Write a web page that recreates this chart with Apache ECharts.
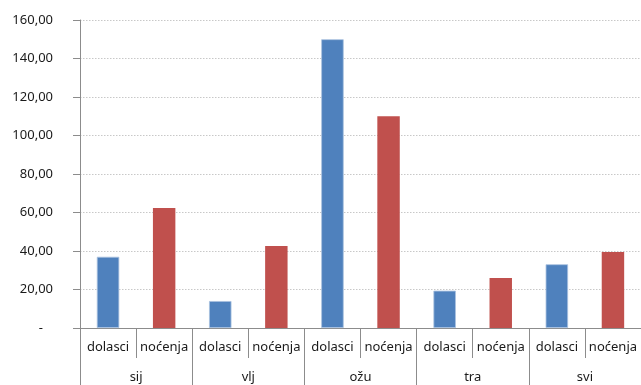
<!DOCTYPE html>
<html>
<head>
<meta charset="utf-8">
<style>
  html, body { margin: 0; padding: 0; background: #fff; }
  #chart { width: 641px; height: 385px; }
</style>
<script src="https://cdn.jsdelivr.net/npm/echarts@6/dist/echarts.min.js"></script>
</head>
<body>
<div id="chart"></div>
<script>
// Monthly arrivals (dolasci) and overnight stays (noćenja)
const months = ['sij', 'vlj', 'ožu', 'tra', 'svi'];
const measures = ['dolasci', 'noćenja'];
const dolasci = [37.0, 14.0, 150.0, 19.4, 33.1];
const nocenja = [62.3, 42.6, 110.0, 26.0, 39.5];
const measureColors = ['#4F81BD', '#C0504D'];
const yTicks = [0, 20, 40, 60, 80, 100, 120, 140, 160];

// Flatten into one category per bar: month × measure
const categories = [];
const values = [];
months.forEach((m, i) => {
  categories.push(measures[0]);
  values.push({ value: dolasci[i], itemStyle: { color: measureColors[0], borderColor: '#A9C1E0', borderWidth: 0.8 } });
  categories.push(measures[1]);
  values.push({ value: nocenja[i], itemStyle: { color: measureColors[1] } });
});

const fontFamily = '"Noto Sans", "DejaVu Sans", sans-serif';
const axisGray = '#8c8c8c';

const chart = echarts.init(document.getElementById('chart'), null, { renderer: 'canvas' });
chart.setOption({
  animation: false,
  backgroundColor: '#ffffff',
  grid: { left: 80, right: 0, top: 20, bottom: 57, containLabel: false },
  xAxis: [
    {
      type: 'category',
      data: categories,
      position: 'bottom',
      axisLine: { lineStyle: { color: axisGray, width: 1 } },
      axisTick: { show: true, interval: 0, length: 30, lineStyle: { color: axisGray } },
      axisLabel: { interval: 0, margin: 13, color: '#1a1a1a', fontSize: 13, fontFamily: fontFamily }
    },
    {
      type: 'category',
      data: months,
      position: 'bottom',
      axisLine: { show: false },
      axisTick: { show: true, interval: 0, length: 60, lineStyle: { color: axisGray } },
      axisLabel: { interval: 0, margin: 43, color: '#1a1a1a', fontSize: 13, fontFamily: fontFamily }
    }
  ],
  yAxis: {
    type: 'value',
    min: yTicks[0],
    max: yTicks[yTicks.length - 1],
    interval: yTicks[1] - yTicks[0],
    axisLine: { show: true, lineStyle: { color: axisGray, width: 1 } },
    axisTick: { show: true, inside: false, length: 7, lineStyle: { color: axisGray } },
    splitLine: { show: true, lineStyle: { color: '#c8c8c8', type: [1.5, 1.5], width: 1 } },
    axisLabel: {
      margin: 27,
      color: '#1a1a1a',
      fontSize: 13,
      fontFamily: fontFamily,
      formatter: v => v === 0 ? '-   ' : v.toFixed(2).replace('.', ',')
    }
  },
  series: [
    {
      type: 'bar',
      xAxisIndex: 0,
      data: values,
      barWidth: '40%'
    }
  ]
});
</script>
</body>
</html>
